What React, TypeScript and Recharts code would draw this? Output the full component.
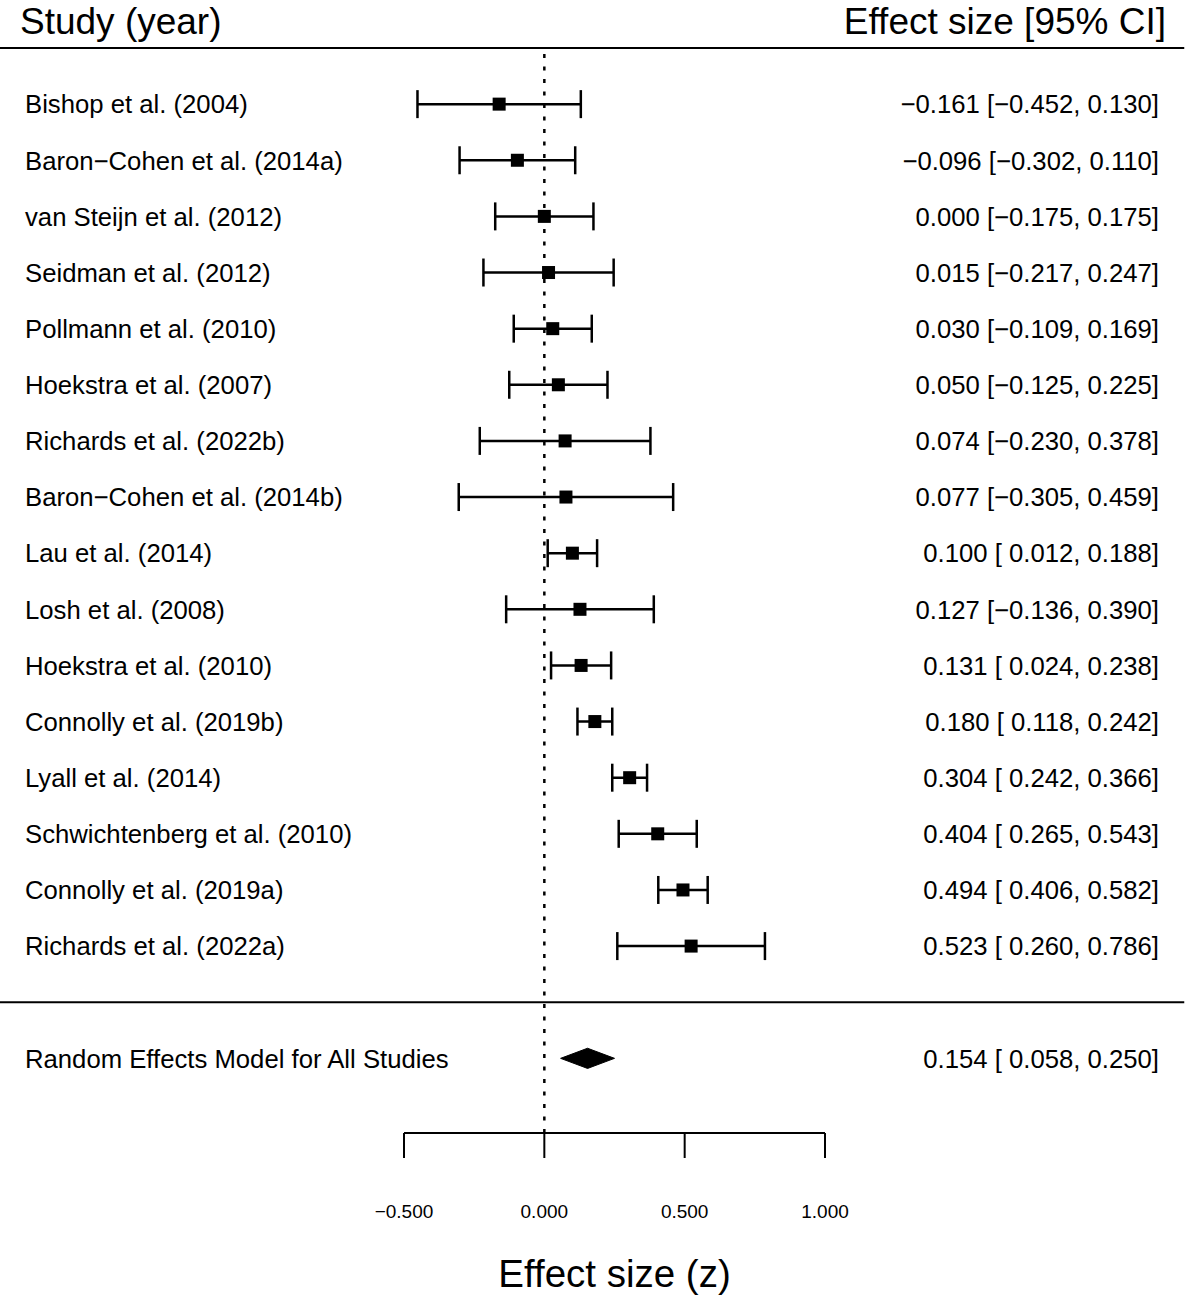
import React from "react";
import { ScatterChart, Scatter, XAxis, YAxis, ErrorBar, ReferenceLine } from "recharts";

const studies = [
  "Bishop et al. (2004)",
  "Baron\u2212Cohen et al. (2014a)",
  "van Steijn et al. (2012)",
  "Seidman et al. (2012)",
  "Pollmann et al. (2010)",
  "Hoekstra et al. (2007)",
  "Richards et al. (2022b)",
  "Baron\u2212Cohen et al. (2014b)",
  "Lau et al. (2014)",
  "Losh et al. (2008)",
  "Hoekstra et al. (2010)",
  "Connolly et al. (2019b)",
  "Lyall et al. (2014)",
  "Schwichtenberg et al. (2010)",
  "Connolly et al. (2019a)",
  "Richards et al. (2022a)",
];
const estimates = [-0.161, -0.096, 0.0, 0.015, 0.03, 0.05, 0.074, 0.077, 0.1, 0.127, 0.131, 0.18, 0.304, 0.404, 0.494, 0.523];
const lowers = [-0.452, -0.302, -0.175, -0.217, -0.109, -0.125, -0.23, -0.305, 0.012, -0.136, 0.024, 0.118, 0.242, 0.265, 0.406, 0.26];
const uppers = [0.13, 0.11, 0.175, 0.247, 0.169, 0.225, 0.378, 0.459, 0.188, 0.39, 0.238, 0.242, 0.366, 0.543, 0.582, 0.786];

const pooledLabel = "Random Effects Model for All Studies";
const pooledEstimate = 0.154;
const pooledLower = 0.058;
const pooledUpper = 0.25;

const xTicks = [-0.5, 0, 0.5, 1];

const FONT = "'Liberation Sans', Arial, Helvetica, sans-serif";
const W = 1186;
const H = 1295;
// rows: studies 0..15, gap at 16 (separator), pooled at 17
const separatorRow = studies.length;
const pooledRow = studies.length + 1;
const yDomain: [number, number] = [-1, 18.33];
const ruleX: [number, number] = [-1.95, 2.28];
const diamondHalf = 0.18;

const fmt = (v: number) => (v < 0 ? "\u2212" : "") + Math.abs(v).toFixed(3);
const fmtLow = (v: number) => (v < 0 ? "\u2212" : " ") + Math.abs(v).toFixed(3);
const ciText = (e: number, lo: number, hi: number) => `${fmt(e)} [${fmtLow(lo)}, ${fmt(hi)}]`;

const rowLabels: Record<number, string> = {};
const rowCi: Record<number, string> = {};
studies.forEach((s, i) => {
  rowLabels[i] = s;
  rowCi[i] = ciText(estimates[i], lowers[i], uppers[i]);
});
rowLabels[pooledRow] = pooledLabel;
rowCi[pooledRow] = ciText(pooledEstimate, pooledLower, pooledUpper);
const rowTicks = [...studies.map((_, i) => i), pooledRow];

const studyData = studies.map((name, i) => ({
  name,
  x: estimates[i],
  y: i,
  err: [estimates[i] - lowers[i], uppers[i] - estimates[i]],
}));

const diamondData = [
  { x: pooledLower, y: pooledRow },
  { x: pooledEstimate, y: pooledRow - diamondHalf },
  { x: pooledUpper, y: pooledRow },
  { x: pooledEstimate, y: pooledRow + diamondHalf },
];

const StudyTick = (props: any) => (
  <text x={25} y={props.y} dy="0.36em" fontSize={25.7} fill="#000" fontFamily={FONT} textAnchor="start">
    {rowLabels[props.payload.value]}
  </text>
);

const CiTick = (props: any) => (
  <text x={W - 27} y={props.y} dy="0.36em" fontSize={25.7} fill="#000" fontFamily={FONT} textAnchor="end">
    {rowCi[props.payload.value]}
  </text>
);

const Square = (props: any) => (
  <rect x={props.cx - 6.5} y={props.cy - 6.5} width={13} height={13} fill="#000" />
);

const renderDiamond = (props: any) => {
  const pts = props.points || [];
  if (!pts.length) return <g />;
  const d = pts.map((p: any, i: number) => `${i ? "L" : "M"}${p.x},${p.y}`).join(" ") + " Z";
  return <path d={d} fill="#000" stroke="#000" strokeWidth={1} />;
};

export default function App() {
  return (
    <div style={{ position: "absolute", left: 0, top: 0, background: "#fff" }}>
      <ScatterChart width={W} height={H} margin={{ top: 48, right: 0, bottom: 0, left: 0 }}>
        <XAxis
          type="number"
          dataKey="x"
          domain={[-0.5, 1]}
          ticks={xTicks}
          allowDataOverflow
          tickFormatter={fmt}
          height={H - 1133}
          axisLine={{ stroke: "#000", strokeWidth: 2 }}
          tickLine={{ stroke: "#000", strokeWidth: 2 }}
          tickSize={25}
          tickMargin={47}
          tick={{ fontSize: 19, fill: "#000", fontFamily: FONT }}
          label={{
            content: (p: any) => (
              <text
                x={p.viewBox.x + p.viewBox.width / 2}
                y={p.viewBox.y + 154}
                textAnchor="middle"
                fontSize={38.5}
                fill="#000"
                fontFamily={FONT}
              >
                Effect size (z)
              </text>
            ),
          }}
        />
        <YAxis
          type="number"
          dataKey="y"
          domain={yDomain}
          reversed
          allowDataOverflow
          ticks={rowTicks}
          interval={0}
          width={404}
          axisLine={false}
          tickLine={false}
          tick={<StudyTick />}
          label={{
            content: (p: any) => (
              <text x={p.viewBox.x + 20} y={p.viewBox.y - 14} fontSize={37} fill="#000" fontFamily={FONT}>
                Study (year)
              </text>
            ),
          }}
        />
        <YAxis
          yAxisId="right"
          orientation="right"
          type="number"
          dataKey="y"
          domain={yDomain}
          reversed
          allowDataOverflow
          ticks={rowTicks}
          interval={0}
          width={361}
          axisLine={false}
          tickLine={false}
          tick={<CiTick />}
          label={{
            content: (p: any) => (
              <text
                x={p.viewBox.x + p.viewBox.width - 20}
                y={p.viewBox.y - 14}
                textAnchor="end"
                fontSize={37}
                fill="#000"
                fontFamily={FONT}
              >
                Effect size [95% CI]
              </text>
            ),
          }}
        />
        <ReferenceLine
          segment={[{ x: ruleX[0], y: yDomain[0] }, { x: ruleX[1], y: yDomain[0] }]}
          ifOverflow="visible"
          stroke="#000"
          strokeWidth={2}
        />
        <ReferenceLine
          segment={[{ x: ruleX[0], y: separatorRow }, { x: ruleX[1], y: separatorRow }]}
          ifOverflow="visible"
          stroke="#000"
          strokeWidth={2}
        />
        <ReferenceLine x={0} stroke="#000" strokeWidth={2.5} strokeDasharray="4 8.5" />
        <Scatter data={studyData} shape={<Square />} isAnimationActive={false}>
          <ErrorBar dataKey="err" direction="x" width={14} strokeWidth={2.5} stroke="#000" isAnimationActive={false} />
        </Scatter>
        <Scatter
          data={diamondData}
          yAxisId="right"
          shape={() => <g />}
          line={renderDiamond}
          lineType="joint"
          isAnimationActive={false}
        />
      </ScatterChart>
    </div>
  );
}
